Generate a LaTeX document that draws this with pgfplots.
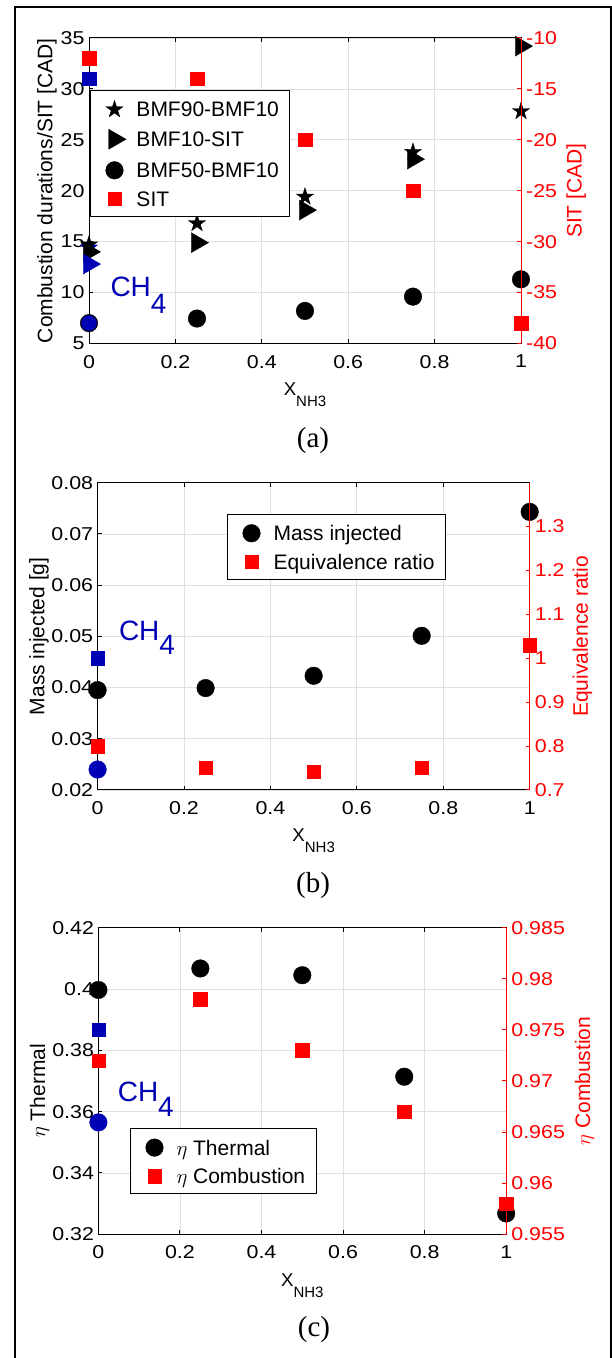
\documentclass[border=0pt]{standalone}
\usepackage{fontspec}
\setmainfont{Liberation Sans}
\newfontfamily\capfont{Liberation Serif}
\newfontfamily\tickfont{Liberation Sans}[FakeStretch=1.15]
\usepackage{pgfplots}
\pgfplotsset{compat=1.18}
\usetikzlibrary{plotmarks}
\definecolor{mblue}{RGB}{0,0,180}
\definecolor{gridgray}{RGB}{224,224,224}
\pgfdeclareplotmark{fstar}{%
  \pgfpathmoveto{\pgfpointpolar{90}{\pgfplotmarksize}}%
  \pgfpathlineto{\pgfpointpolar{126}{0.382\pgfplotmarksize}}%
  \pgfpathlineto{\pgfpointpolar{162}{\pgfplotmarksize}}%
  \pgfpathlineto{\pgfpointpolar{198}{0.382\pgfplotmarksize}}%
  \pgfpathlineto{\pgfpointpolar{234}{\pgfplotmarksize}}%
  \pgfpathlineto{\pgfpointpolar{270}{0.382\pgfplotmarksize}}%
  \pgfpathlineto{\pgfpointpolar{306}{\pgfplotmarksize}}%
  \pgfpathlineto{\pgfpointpolar{342}{0.382\pgfplotmarksize}}%
  \pgfpathlineto{\pgfpointpolar{18}{\pgfplotmarksize}}%
  \pgfpathlineto{\pgfpointpolar{54}{0.382\pgfplotmarksize}}%
  \pgfpathclose
  \pgfusepathqfillstroke
}
\pgfplotsset{
  myleg/.style={legend image code/.code={%
      \path[draw=none, fill=none] (0pt,0pt) rectangle (26pt,15pt);
      \draw[##1] plot coordinates {(13pt,7.5pt)};}},
  circB/.style={only marks, mark=*, mark size=8.8pt, mark options={fill=black, draw=black, line width=0.4pt}, myleg},
  circBlue/.style={only marks, mark=*, mark size=8.8pt, mark options={fill=mblue, draw=mblue, line width=0.4pt}},
  sqR/.style={only marks, mark=square*, mark size=6.7pt, mark options={fill=red, draw=red, line width=0.4pt}, myleg},
  sqBlue/.style={only marks, mark=square*, mark size=6.7pt, mark options={fill=mblue, draw=mblue, line width=0.4pt}},
  starB/.style={only marks, mark=fstar, mark size=9pt, mark options={fill=black, draw=black, line width=0.4pt}, myleg},
  starBlue/.style={only marks, mark=fstar, mark size=9pt, mark options={fill=mblue, draw=mblue, line width=0.4pt}},
  triB/.style={only marks, mark=triangle*, mark size=11.5pt, mark options={rotate=-90, fill=black, draw=black, line width=0.4pt}, myleg},
  triBlue/.style={only marks, mark=triangle*, mark size=11.5pt, mark options={rotate=-90, fill=mblue, draw=mblue, line width=0.4pt}},
  leftax/.style={scale only axis, clip=false, anchor=south west,
    xmin=0, xmax=1, xtick={0,0.2,0.4,0.6,0.8,1}, xticklabels={0,0.2,0.4,0.6,0.8,1},
    scaled y ticks=false, scaled x ticks=false,
    ytick pos=left, tick align=inside, major tick length=4pt,
    grid=major, grid style={draw=gridgray, line width=0.8pt},
    axis line style={line width=1pt},
    every tick/.style={black, line width=1pt},
    tick label style={font=\tickfont\fontsize{18.6}{20}\selectfont},
    yticklabel style={inner sep=0pt, xshift=-4.3pt},
    xticklabel style={inner sep=0pt, yshift=-11.5pt},
    ylabel style={anchor=base, font=\fontsize{21}{24}\selectfont},
    xlabel style={anchor=base, font=\fontsize{18.6}{20}\selectfont}},
  rightax/.style={scale only axis, clip=false, anchor=south west,
    xmin=0, xmax=1, axis x line=none, axis y line*=right,
    scaled y ticks=false,
    tick align=inside, ytick align=inside, major tick length=4pt,
    y axis line style={red, line width=1pt},
    every tick/.style={red, line width=1pt},
    yticklabel style={red, inner sep=0pt, xshift=5pt, font=\tickfont\fontsize{18.6}{20}\selectfont},
    ylabel style={red, anchor=base, font=\fontsize{21}{24}\selectfont},
    legend style={anchor=north west, draw=black, line width=1pt, fill=white,
      inner xsep=11pt, inner ysep=10pt, row sep=12.3pt, column sep=9pt,
      nodes={inner sep=0pt, text height=15pt, text depth=0pt, font=\fontsize{21}{24}\selectfont},
      cells={anchor=base west}}},
}
\newcommand{\xnh}{X\raisebox{-10.7pt}{\fontsize{15}{16}\selectfont NH3}}
\begin{document}
\begin{tikzpicture}
\useasboundingbox (0pt,0pt) rectangle (612pt,1358pt);
\draw[line width=2pt] (15pt,0pt) -- (15pt,1350.7pt) -- (611pt,1350.7pt) -- (611pt,0pt);

% ---------------- Panel (a) ----------------
\begin{axis}[leftax, at={(89pt,1014.5pt)}, width=432pt, height=305.5pt,
  ymin=5, ymax=35, ytick={5,10,15,20,25,30,35}, yticklabels={5,10,15,20,25,30,35},
  ylabel={Combustion durations/SIT [CAD]}, ylabel style={at={(axis description cs:-0.0845,0.5)}},
  xlabel={\xnh}, xlabel style={at={(axis description cs:0.5,-0.1718)}}]
\addplot[starBlue] coordinates {(0,14.4)};
\addplot[starB] coordinates {(0,14.7) (0.25,16.8) (0.5,19.4) (0.75,23.8) (1,27.8)};
\addplot[triB] coordinates {(0,14.0) (0.25,14.9) (0.5,18.1) (0.75,23.1) (1,34.2)};
\addplot[triBlue] coordinates {(0,12.8)};
\addplot[circB] coordinates {(0,7.0) (0.25,7.45) (0.5,8.2) (0.75,9.6) (1,11.3)};
\addplot[circBlue, mark size=7.6pt] coordinates {(0,7.0)};
\end{axis}
\begin{axis}[rightax, at={(89pt,1014.5pt)}, width=432pt, height=305.5pt,
  ymin=-40, ymax=-10, ytick={-40,-35,-30,-25,-20,-15,-10}, yticklabels={-40,-35,-30,-25,-20,-15,-10},
  ylabel={SIT [CAD]}, ylabel style={at={(axis description cs:1.1405,0.5)}},
  legend style={at={(axis description cs:0.0023,0.8298)}}]
\addlegendimage{starB}
\addlegendimage{triB}
\addlegendimage{circB}
\addplot[sqR] coordinates {(0,-12) (0.25,-14) (0.5,-20) (0.75,-25) (1,-38)};
\addplot[sqBlue, forget plot] coordinates {(0,-14)};
\legend{BMF90-BMF10, BMF10-SIT, BMF50-BMF10, SIT}
\end{axis}
\node[anchor=base west, text=mblue, inner sep=0pt, font=\fontsize{28}{30}\selectfont] at (110.3pt,1061.3pt) {CH\raisebox{-16.7pt}{4}};
\node[anchor=base, inner sep=0pt, font=\capfont\fontsize{29}{30}\selectfont] at (313pt,910pt) {(a)};

% ---------------- Panel (b) ----------------
\begin{axis}[leftax, at={(97.6pt,568pt)}, width=432.1pt, height=307.3pt,
  ymin=0.02, ymax=0.08, ytick={0.02,0.03,0.04,0.05,0.06,0.07,0.08}, yticklabels={0.02,0.03,0.04,0.05,0.06,0.07,0.08},
  ylabel={Mass injected [g]}, ylabel style={at={(axis description cs:-0.1229,0.5)}},
  xlabel={\xnh}, xlabel style={at={(axis description cs:0.5,-0.1682)}}]
\addplot[circB] coordinates {(0,0.0395) (0.25,0.0399) (0.5,0.0423) (0.75,0.0501) (1,0.0743)};
\addplot[circBlue] coordinates {(0,0.0240)};
\end{axis}
\begin{axis}[rightax, at={(97.6pt,568pt)}, width=432.1pt, height=307.3pt,
  ymin=0.7, ymax=1.4, ytick={0.7,0.8,0.9,1,1.1,1.2,1.3}, yticklabels={0.7,0.8,0.9,1,1.1,1.2,1.3},
  ylabel={Equivalence ratio}, ylabel style={at={(axis description cs:1.1349,0.5)}},
  legend style={at={(axis description cs:0.2995,0.8982)}}]
\addlegendimage{circB}
\addplot[sqR] coordinates {(0,0.80) (0.25,0.751) (0.5,0.741) (0.75,0.751) (1,1.03)};
\addplot[sqBlue, forget plot] coordinates {(0,1.0)};
\legend{Mass injected, Equivalence ratio}
\end{axis}
\node[anchor=base west, text=mblue, inner sep=0pt, font=\fontsize{28}{30}\selectfont] at (118.8pt,717.3pt) {CH\raisebox{-14.3pt}{4}};
\node[anchor=base, inner sep=0pt, font=\capfont\fontsize{29}{30}\selectfont] at (313pt,465pt) {(b)};

% ---------------- Panel (c) ----------------
\begin{axis}[leftax, at={(98.4pt,123.7pt)}, width=407.8pt, height=306.6pt,
  ymin=0.32, ymax=0.42, ytick={0.32,0.34,0.36,0.38,0.4,0.42}, yticklabels={0.32,0.34,0.36,0.38,0.4,0.42},
  ylabel={$\eta$ Thermal}, ylabel style={at={(axis description cs:-0.1309,0.468)}},
  xlabel={\xnh}, xlabel style={at={(axis description cs:0.5,-0.1709)}}]
\addplot[circB] coordinates {(0,0.3997) (0.25,0.4067) (0.5,0.4045) (0.75,0.3714) (1,0.3268)};
\addplot[circBlue] coordinates {(0,0.3565)};
\end{axis}
\begin{axis}[rightax, at={(98.4pt,123.7pt)}, width=407.8pt, height=306.6pt,
  ymin=0.955, ymax=0.985, ytick={0.955,0.96,0.965,0.97,0.975,0.98,0.985}, yticklabels={0.955,0.96,0.965,0.97,0.975,0.98,0.985},
  ylabel={$\eta$ Combustion}, ylabel style={at={(axis description cs:1.2055,0.5)}},
  legend style={at={(axis description cs:0.0775,0.3457)}}]
\addlegendimage{circB}
\addplot[sqR] coordinates {(0,0.972) (0.25,0.978) (0.5,0.973) (0.75,0.967) (1,0.958)};
\addplot[sqBlue, forget plot] coordinates {(0,0.975)};
\legend{$\eta$ Thermal, $\eta$ Combustion}
\end{axis}
\node[anchor=base west, text=mblue, inner sep=0pt, font=\fontsize{28}{30}\selectfont] at (117.6pt,256.3pt) {CH\raisebox{-15pt}{4}};
\node[anchor=base, inner sep=0pt, font=\capfont\fontsize{29}{30}\selectfont] at (314pt,21.4pt) {(c)};
\end{tikzpicture}
\end{document}
